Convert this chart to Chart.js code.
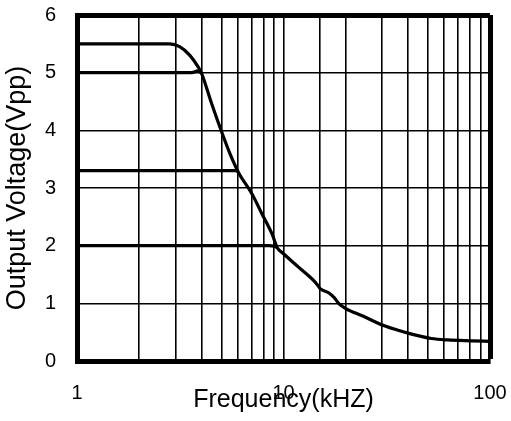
<!DOCTYPE html>
<html>
<head>
<meta charset="utf-8">
<script src="https://cdn.jsdelivr.net/npm/chart.js@4"></script>
<style>
  html, body { margin: 0; padding: 0; background: #fff; }
  #wrap { width: 511px; height: 421px; position: relative; }
</style>
</head>
<body>
<div id="wrap"><canvas id="c"></canvas></div>
<script>
// ---- data ----
// main curve (5.5 Vpp setting, continues into the common roll-off)
const rollOffFreq = [1, 2.81, 3.14, 3.52, 3.86, 4.01, 4.49, 5.02, 5.51, 6.05, 7.03, 7.87, 8.81, 9.31, 10.0, 11.9, 14.3, 15.1, 16.6, 17.6, 18.6, 20.0, 24.2, 30.8, 41.3, 52.0, 62.6, 81.6, 100];
const rollOffVolt = [5.5, 5.5, 5.45, 5.30, 5.10, 4.99, 4.46, 3.97, 3.59, 3.27, 2.90, 2.55, 2.20, 1.97, 1.86, 1.62, 1.36, 1.25, 1.18, 1.10, 0.99, 0.91, 0.78, 0.61, 0.47, 0.39, 0.365, 0.35, 0.34];
// 5.0 Vpp setting
const vo50Freq = [1, 3.6, 3.85, 4.01];
const vo50Volt = [5.0, 5.0, 5.03, 4.99];
// 3.3 Vpp setting
const vo33Freq = [1, 5.72, 5.9, 6.05];
const vo33Volt = [3.3, 3.3, 3.3, 3.27];
// 2.0 Vpp setting
const vo20Freq = [1, 8.5, 9.0, 9.31];
const vo20Volt = [2.0, 2.0, 1.99, 1.97];

const xTickLabels = [1, 10, 100];
const yMin = 0, yMax = 6, yStep = 1;
const xTitle = 'Frequency(kHZ)';
const yTitle = 'Output Voltage(Vpp)';

function pts(xs, ys) { return xs.map((x, i) => ({ x: x, y: ys[i] })); }

const lineStyle = { borderColor: '#000', borderWidth: 3.2, pointRadius: 0, fill: false, tension: 0.35, cubicInterpolationMode: 'monotone' };

const fontFamily = '"Liberation Sans", Arial, sans-serif';

new Chart(document.getElementById('c'), {
  type: 'line',
  data: {
    datasets: [
      Object.assign({ label: '5.5 Vpp', data: pts(rollOffFreq, rollOffVolt) }, lineStyle),
      Object.assign({ label: '5.0 Vpp', data: pts(vo50Freq, vo50Volt) }, lineStyle),
      Object.assign({ label: '3.3 Vpp', data: pts(vo33Freq, vo33Volt) }, lineStyle),
      Object.assign({ label: '2.0 Vpp', data: pts(vo20Freq, vo20Volt) }, lineStyle)
    ]
  },
  options: {
    responsive: true,
    maintainAspectRatio: false,
    animation: false,
    layout: { padding: { top: 15, right: 21, bottom: 0, left: 0 } },
    plugins: { legend: { display: false }, tooltip: { enabled: false } },
    scales: {
      x: {
        type: 'logarithmic',
        min: 1, max: 100,
        afterFit: (s) => { s.height = 60; s.paddingLeft = 0; s.paddingRight = 0; },
        border: { display: true, color: '#000', width: 5 },
        grid: {
          color: '#000',
          drawTicks: false,
          lineWidth: (c) => (c.tick && c.tick.value === 100) ? 5 : 1.6
        },
        ticks: {
          autoSkip: false,
          maxRotation: 0,
          padding: 20,
          color: '#000',
          font: { family: fontFamily, size: 20 },
          callback: (v) => xTickLabels.includes(v) ? String(v) : ''
        },
        title: {
          display: true, text: xTitle, color: '#000',
          font: { family: fontFamily, size: 25 },
          padding: { top: 0, bottom: 6 }
        }
      },
      y: {
        min: yMin, max: yMax,
        afterFit: (s) => { s.width = 77; s.paddingTop = 0; s.paddingBottom = 0; },
        border: { display: true, color: '#000', width: 5 },
        grid: {
          color: '#000',
          drawTicks: false,
          lineWidth: (c) => (c.tick && c.tick.value === yMax) ? 5 : 1.6
        },
        ticks: {
          stepSize: yStep,
          padding: 21,
          color: '#000',
          font: { family: fontFamily, size: 20 }
        },
        title: {
          display: true, text: yTitle, color: '#000',
          font: { family: fontFamily, size: 27 },
          padding: { top: 1, bottom: 0 }
        }
      }
    }
  }
});
</script>
</body>
</html>
